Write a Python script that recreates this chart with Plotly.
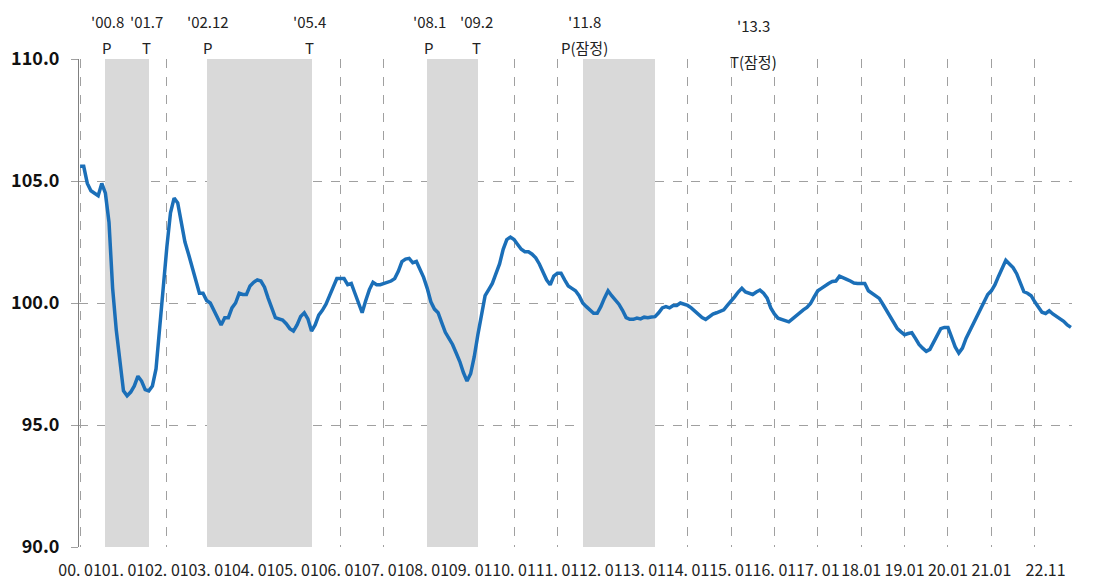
import plotly.graph_objects as go

# ---------------- data (monthly index, 2000.01 = 0) ----------------
y2000 = [105.6, 105.6, 104.9, 104.6, 104.5, 104.4, 104.9, 104.5, 103.3, 100.6, 98.9, 97.6]
y2001 = [96.4, 96.2, 96.35, 96.6, 97.0, 96.8, 96.45, 96.4, 96.6, 97.3, 99.0, 100.8]
y2002 = [102.3, 103.7, 104.3, 104.1, 103.3, 102.5, 102.0, 101.5, 101.0, 100.4, 100.4, 100.1]
y2003 = [100.0, 99.7, 99.4, 99.1, 99.4, 99.4, 99.8, 100.0, 100.4, 100.35, 100.35, 100.7]
y2004 = [100.85, 100.95, 100.9, 100.65, 100.2, 99.8, 99.4, 99.35, 99.3, 99.15, 98.95, 98.85]
y2005 = [99.1, 99.45, 99.6, 99.35, 98.85, 99.1, 99.5, 99.7, 99.95, 100.3, 100.7, 101.0]
y2006 = [101.0, 101.0, 100.75, 100.8, 100.4, 99.95, 99.6, 100.1, 100.55, 100.85, 100.75, 100.75]
y2007 = [100.8, 100.85, 100.9, 101.0, 101.3, 101.7, 101.8, 101.83, 101.65, 101.7, 101.4, 101.05]
y2008 = [100.6, 100.05, 99.75, 99.6, 99.2, 98.8, 98.55, 98.3, 97.95, 97.6, 97.15, 96.8]
y2009 = [97.1, 97.8, 98.7, 99.6, 100.3, 100.55, 100.8, 101.2, 101.6, 102.2, 102.6, 102.7]
y2010 = [102.6, 102.4, 102.2, 102.1, 102.1, 102.0, 101.85, 101.6, 101.25, 100.95, 100.75, 101.1]
y2011 = [101.22, 101.22, 100.95, 100.7, 100.6, 100.5, 100.3, 100.0, 99.85, 99.7, 99.58, 99.58]
y2012 = [99.85, 100.2, 100.5, 100.3, 100.15, 99.95, 99.7, 99.4, 99.33, 99.33, 99.38, 99.35]
y2013 = [99.42, 99.4, 99.43, 99.44, 99.6, 99.8, 99.85, 99.8, 99.9, 99.9, 100.0, 99.95]
y2014 = [99.9, 99.8, 99.65, 99.5, 99.4, 99.33, 99.45, 99.55, 99.6, 99.65, 99.72, 99.9]
y2015 = [100.05, 100.25, 100.45, 100.6, 100.45, 100.4, 100.35, 100.45, 100.53, 100.4, 100.2, 99.8]
y2016 = [99.55, 99.38, 99.33, 99.3, 99.23, 99.35, 99.48, 99.6, 99.72, 99.82, 99.98, 100.25]
y2017 = [100.5, 100.6, 100.72, 100.8, 100.88, 100.9, 101.1, 101.05, 100.97, 100.9, 100.82, 100.8]
y2018 = [100.8, 100.8, 100.5, 100.4, 100.3, 100.19, 99.95, 99.7, 99.45, 99.2, 98.95, 98.82]
y2019 = [98.7, 98.75, 98.78, 98.55, 98.3, 98.15, 98.02, 98.1, 98.4, 98.65, 98.95, 99.0]
y2020 = [99.0, 98.6, 98.2, 97.95, 98.15, 98.55, 98.85, 99.15, 99.45, 99.75, 100.05, 100.35]
y2021 = [100.5, 100.75, 101.1, 101.4, 101.75, 101.6, 101.45, 101.2, 100.85, 100.46, 100.4, 100.3]
y2022 = [100.05, 99.8, 99.62, 99.57, 99.68, 99.55, 99.45, 99.35, 99.25, 99.1, 99.0]

values = (y2000 + y2001 + y2002 + y2003 + y2004 + y2005 + y2006 + y2007 + y2008 + y2009
          + y2010 + y2011 + y2012 + y2013 + y2014 + y2015 + y2016 + y2017 + y2018 + y2019
          + y2020 + y2021 + y2022)
months = list(range(len(values)))

tick_labels = ["00. 01", "01. 01", "02. 01", "03. 01", "04. 01", "05. 01", "06. 01",
               "07. 01", "08. 01", "09. 01", "10. 01", "11. 01", "12. 01", "13. 01",
               "14. 01", "15. 01", "16. 01", "17. 01", "18.01", "19.01", "20.01",
               "21.01", "22.11"]
tick_months = [12 * k for k in range(22)] + [267]

# turning points (year, month, label, date text)
peaks = [(2000, 8, "P", "'00.8"), (2002, 12, "P", "'02.12"), (2008, 1, "P", "'08.1"),
         (2011, 8, "P(잠정)", "'11.8")]
troughs = [(2001, 7, "T", "'01.7"), (2005, 4, "T", "'05.4"), (2009, 2, "T", "'09.2"),
           (2013, 3, "T(잠정)", "'13.3")]


def midx(y, m):
    return (y - 2000) * 12 + (m - 1)


FONT = "Noto Sans CJK KR, Malgun Gothic, sans-serif"
Y_MIN, Y_MAX = 90, 110

fig = go.Figure()

# recession shading (bars cover the gridlines like in the reference)
sx, sw = [], []
for (py, pm, _, _), (ty, tm, _, _) in zip(peaks, troughs):
    a, b = midx(py, pm), midx(ty, tm) + 1
    sx.append((a + b) / 2)
    sw.append(b - a)
fig.add_trace(go.Bar(x=sx, y=[Y_MAX - Y_MIN] * len(sx), base=Y_MIN, width=sw,
                     marker=dict(color="#d9d9d9", line=dict(width=0)),
                     hoverinfo="skip", showlegend=False))

fig.add_trace(go.Scatter(x=months, y=values, mode="lines",
                         line=dict(color="#1b6fb8", width=3.5), hoverinfo="skip",
                         showlegend=False))

anns = []
for (yy, mm, code, date) in peaks + troughs:
    late = date == "'13.3"
    shift = 100 if late else 0
    xc = midx(yy, mm) + 0.5
    anns.append(dict(x=xc, xref="x", y=1, yref="paper", yanchor="middle",
                     yshift=34 if late else 38, text=date, showarrow=False, xshift=shift,
                     font=dict(family=FONT, size=15, color="#222")))
    anns.append(dict(x=xc, xref="x", y=1, yref="paper", yanchor="middle",
                     yshift=-2 if late else 12, text=code, showarrow=False, xshift=shift,
                     font=dict(family=FONT, size=15, color="#222")))
fig.update_layout(annotations=anns)

fig.update_xaxes(range=[-0.3, 274.3], tickmode="array", tickvals=tick_months,
                 ticktext=tick_labels, tickangle=0, showgrid=False, zeroline=False,
                 showline=False, ticks="", automargin=False, ticklabelstandoff=12,
                 tickfont=dict(family=FONT, size=16, color="#222"),
                 minor=dict(tickvals=[12 * k for k in range(23)], showgrid=True,
                            griddash="dash", gridcolor="#a0a0a0", gridwidth=1))
fig.update_yaxes(range=[Y_MIN, Y_MAX], tickvals=[90, 95, 100, 105, 110], tickformat=".1f",
                 showgrid=True, griddash="dash", gridcolor="#a0a0a0", gridwidth=1,
                 zeroline=False, showline=True, linecolor="#808080", linewidth=1,
                 ticks="outside", ticklen=7, tickcolor="#a0a0a0", automargin=False,
                 ticklabelstandoff=8,
                 tickfont=dict(family=FONT, size=18, color="#111", weight="bold"))

# page body adds an 8px offset, so margins are reduced on the left/top
fig.update_layout(width=1112, height=585, margin=dict(l=71, r=48, t=51, b=46),
                  plot_bgcolor="white", paper_bgcolor="white", bargap=0)

fig.write_html("out.html")
